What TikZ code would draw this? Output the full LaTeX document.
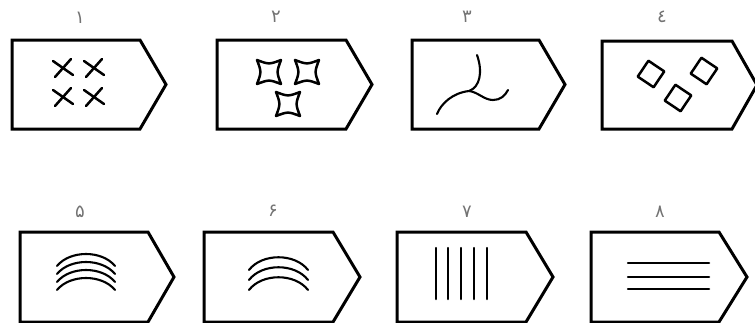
\documentclass[tikz,border=0pt]{standalone}
\usepackage{fontspec}
\newfontfamily\arabicfont[Script=Arabic]{DejaVu Sans}
\begin{document}
\begin{tikzpicture}[x=1pt,y=-1pt,
  boxline/.style={line width=3pt,line join=miter},
  figline/.style={line width=2.5pt,line cap=round,line join=round},
  thinfig/.style={line width=2.1pt,line cap=round,line join=round},
  numlabel/.style={font=\arabicfont\fontsize{18}{20}\selectfont,text=black!55,inner sep=0pt}]
\useasboundingbox (0,0) rectangle (755,322);
% row 1 boxes
\draw[boxline] (12,40) -- (140,40) -- (166,84.5) -- (140,129) -- (12,129) -- cycle;
\draw[boxline] (217,40) -- (346,40) -- (372,84.5) -- (346,129) -- (217,129) -- cycle;
\draw[boxline] (412,40) -- (539,40) -- (565,84.5) -- (539,129) -- (412,129) -- cycle;
\draw[boxline] (602,41) -- (732,41) -- (757,85) -- (732,129) -- (602,129) -- cycle;
% row 2 boxes
\draw[boxline] (20,232) -- (148,232) -- (174,277) -- (148,322) -- (20,322) -- cycle;
\draw[boxline] (204,232) -- (333,232) -- (360,277) -- (333,322) -- (204,322) -- cycle;
\draw[boxline] (397,232) -- (526,232) -- (553,277) -- (526,322) -- (397,322) -- cycle;
\draw[boxline] (591,232) -- (719,232) -- (747,277) -- (719,322) -- (591,322) -- cycle;
% labels
\node[numlabel] (l1) at (80,18) {۱};
\node[numlabel] (l2) at (276,17) {۲};
\node[numlabel] (l3) at (467,17) {۳};
\node[numlabel] (l4) at (662,17) {٤};
\node[numlabel] (l5) at (80,212) {۵};
\node[numlabel] (l6) at (273,211) {۶};
\node[numlabel] (l7) at (467,212) {۷};
\node[numlabel] (l8) at (660,212) {۸};
% box 1: crosses
\foreach \cx/\cy in {63/68, 94/68, 63/97, 94/97}{
  \draw[figline] (\cx-10,\cy-7) -- (\cx+10,\cy+7);
  \draw[figline] (\cx-8,\cy+9) -- (\cx+8,\cy-9);
}
% box 2: concave squares
\foreach \cx/\cy in {269/72, 307/72, 288/104}{
  \begin{scope}[shift={(\cx,\cy)}]
  \draw[figline] (-12,-12) .. controls (0,-7.5) .. (12,-12) .. controls (7.5,0) .. (12,12)
     .. controls (0,7.5) .. (-12,12) .. controls (-7.5,0) .. (-12,-12);
  \end{scope}
}
% box 3: branching curve
\draw[thinfig] (477,55) .. controls (483,72) and (480,87) .. (469,91)
   .. controls (452,93) and (441,104) .. (437,114);
\draw[thinfig] (469,91) .. controls (478,92) and (484,100) .. (493,100)
   .. controls (500,100) and (505,96) .. (508,90);
% box 4: rotated squares
\foreach \cx/\cy in {651/74, 704/71, 678/98}{
  \draw[figline] (\cx,\cy) +(-101:13.5) -- +(-11:13.5) -- +(79:13.5) -- +(169:13.5) -- cycle;
}
% box 5: four arcs
\foreach \ye in {266,274,282,290}{
  \draw[thinfig] (57,\ye) .. controls (70,\ye-16) and (102,\ye-16) .. (115,\ye);
}
% box 6: three arcs
\foreach \ye in {270,280,290}{
  \draw[thinfig] (249,\ye) .. controls (262,\ye-17) and (295,\ye-17) .. (308,\ye);
}
% box 7: vertical lines
\foreach \x in {436,448,461,474,487}{
  \draw[figline] (\x,248) -- (\x,299);
}
% box 8: horizontal lines
\foreach \y in {263,277,289}{
  \draw[figline] (628,\y) -- (709,\y);
}
\end{tikzpicture}
\end{document}
